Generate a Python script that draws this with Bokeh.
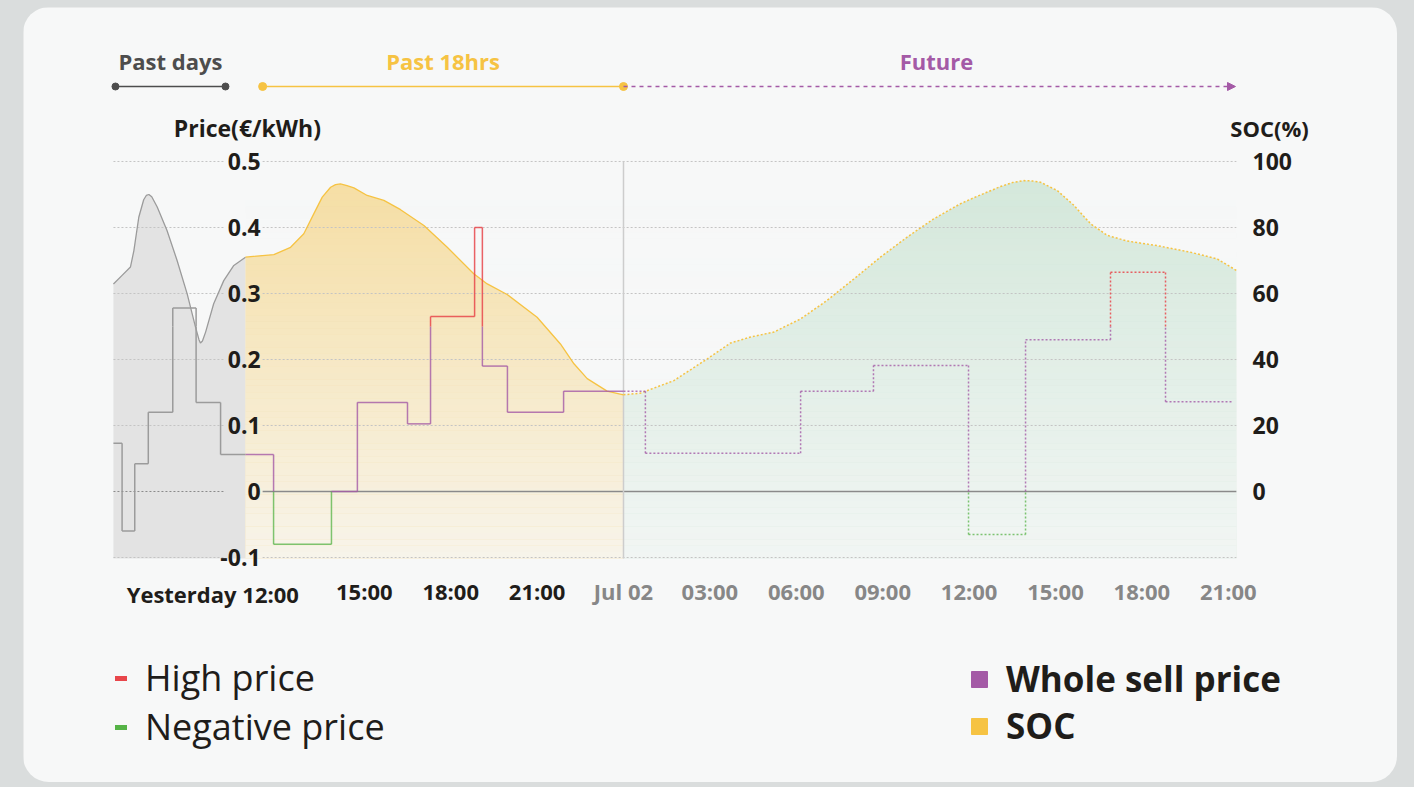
import numpy as np
from bokeh.plotting import figure
from bokeh.models import (Range1d, LinearAxis, FixedTicker, ColumnDataSource, Label,
                          Legend, LegendItem, Arrow, NormalHead)
from bokeh.core.properties import value
from bokeh.embed import file_html
from bokeh.resources import INLINE

# ---------------- data ----------------
region_names = ["Past days", "Past 18hrs", "Future"]
region_start = [-17.64, -12.53, 0.0]          # hours relative to Jul 02 00:00
region_end = [-13.82, 0.0, 21.25]
past_days_end = -13.125                        # boundary between past days and past 18 hrs
now_hour = 0.0
chart_x = [-17.71, 21.28]                      # hours shown in the chart area
chart_price = [-0.1015, 0.5]                   # price span of the chart area

# SOC (%) curves
past_days_hours = [-17.71, -17.41, -17.12, -17.00, -16.83, -16.66, -16.57, -16.48, -16.38, -16.19,
                   -15.85, -15.50, -15.15, -14.86, -14.74, -14.69, -14.62, -14.51, -14.23, -13.88,
                   -13.53, -13.125]
past_days_soc = [62.9, 65.5, 68.0, 73.0, 83.1, 88.4, 89.7, 90.0, 89.3, 86.2,
                 79.1, 70.0, 59.9, 49.8, 46.0, 45.0, 45.6, 48.3, 56.9, 63.9,
                 68.5, 71.0]
past_hours = [-13.125, -12.14, -11.56, -11.10, -10.75, -10.46, -10.17, -10.00, -9.83, -9.60, -9.36,
              -8.90, -8.32, -7.74, -6.93, -6.12, -5.20, -4.73, -4.04, -3.00, -2.19, -1.72, -1.26,
              -0.57, 0.0]
past_soc = [71.0, 71.8, 74.0, 78.1, 84.2, 89.2, 92.2, 93.0, 93.2, 92.7, 92.0,
            89.7, 88.2, 85.4, 80.6, 74.0, 66.0, 62.9, 59.7, 52.8, 44.7, 38.7, 34.2,
            30.4, 29.3]
future_hours = [0.0, 0.59, 1.75, 2.91, 3.72, 4.41, 5.22, 6.15, 7.07, 8.00, 8.92, 9.85, 10.77, 11.70,
                12.16, 13.09, 13.50, 13.90, 14.20, 14.48, 15.06, 15.64, 16.22, 16.80, 17.49, 18.53,
                19.69, 20.61, 21.28]
future_soc = [29.3, 29.8, 33.6, 40.2, 45.0, 46.8, 48.3, 52.3, 57.9, 64.4, 71.0, 77.1, 82.6, 87.2,
              89.0, 92.4, 93.6, 94.2, 94.1, 93.7, 91.2, 86.7, 81.1, 77.6, 75.9, 74.5,
              72.5, 70.5, 67.0]

# Whole sell price (EUR/kWh) step series
price_edges = [-17.71, -17.41, -16.97, -16.50, -15.65, -14.84, -13.99, -12.15, -10.14, -9.24, -7.50,
               -6.70, -5.17, -4.90, -4.03, -2.08, 0.76, 6.15, 8.68, 11.98, 13.96, 16.91, 18.82, 21.18]
price_values = [0.073, -0.060, 0.042, 0.120, 0.278, 0.135, 0.056, -0.080, 0.0, 0.135, 0.1025,
                0.265, 0.40, 0.19, 0.12, 0.152, 0.058, 0.152, 0.191, -0.065, 0.23, 0.332, 0.136]
high_price = 0.25

price_ticks = [-0.1, 0.0, 0.1, 0.2, 0.3, 0.4, 0.5]
price_tick_labels = ["-0.1", "0", "0.1", "0.2", "0.3", "0.4", "0.5"]
soc_ticks = [0, 20, 40, 60, 80, 100]
soc_tick_labels = ["0", "20", "40", "60", "80", "100"]
first_tick_hour = -12
first_tick_label = "Yesterday 12:00"
past_tick_hours = [-9, -6, -3]
past_tick_labels = ["15:00", "18:00", "21:00"]
future_tick_hours = [0, 3, 6, 9, 12, 15, 18, 21]
future_tick_labels = ["Jul 02", "03:00", "06:00", "09:00", "12:00", "15:00", "18:00", "21:00"]
legend_left_labels = ["High price", "Negative price"]
legend_right_labels = ["Whole sell price", "SOC"]

# ---------------- style ----------------
FONT = "Open Sans"
CARD = "#f7f8f8"
PAGE = "#dadddd"
DARK = "#1f1d1a"
GRAY_TXT = "#878787"
YELLOW = "#f6c343"
PURPLE = "#a45aa6"
RED = "#e8464b"
GREEN = "#55b346"
PASTGRAY = "#9b9b9b"
HEADGRAY = "#4d4d4d"
SOC_PER_PRICE = 200.0
X_RANGE = (-20.833, 26.875)     # whole card, 28.8 px per hour
Y_RANGE = (-0.4409, 0.7333)     # whole card, 660 px per EUR/kWh
HEADER_LINE_Y = 0.6136
HEADER_TEXT_Y = 0.652
AXIS_TITLE_Y = 0.551
LEFT_AXIS_AT = -12.60
RIGHT_AXIS_AT = 21.84

p = figure(width=1374, height=775, output_backend="svg", toolbar_location=None,
           x_range=Range1d(*X_RANGE), y_range=Range1d(*Y_RANGE),
           min_border=0, min_border_left=0, min_border_right=0, min_border_top=0, min_border_bottom=0,
           background_fill_color=CARD, border_fill_color=CARD, outline_line_color=None)
p.styles = {"border-radius": "26px", "overflow": "hidden"}
p.grid.visible = False
p.extra_y_ranges = {"soc": Range1d(Y_RANGE[0] * SOC_PER_PRICE, Y_RANGE[1] * SOC_PER_PRICE)}
soc_floor = chart_price[0] * SOC_PER_PRICE

# ---- fills ----
p.varea(x=past_days_hours, y1=soc_floor, y2=past_days_soc, y_range_name="soc",
        fill_color="#e3e3e3", fill_alpha=1.0)
p.varea(x=past_hours, y1=soc_floor, y2=past_soc, y_range_name="soc", fill_color="#f6dea3", fill_alpha=1.0)
p.varea(x=future_hours, y1=soc_floor, y2=future_soc, y_range_name="soc", fill_color="#d4e8db", fill_alpha=1.0)

# vertical fade (card-coloured translucent bands over the coloured areas)
nb = 60
band_top = 0.48
band_edges = np.linspace(chart_price[0], band_top, nb + 1)
band_mid = (band_edges[:-1] + band_edges[1:]) / 2
band_alpha = np.clip(0.84 * (band_top - band_mid) / (band_top - chart_price[0]), 0, 1)
p.quad(left=past_days_end, right=chart_x[1], bottom=band_edges[:-1], top=band_edges[1:],
       fill_color=CARD, fill_alpha=band_alpha, line_color=None)

# ---- grid lines (with a gap for the price labels) ----
grid_levels = [t for t in price_ticks if t != 0.0]
gx0 = [chart_x[0]] * len(grid_levels) + [region_start[1]] * len(grid_levels)
gx1 = [region_end[0]] * len(grid_levels) + [chart_x[1]] * len(grid_levels)
gy = grid_levels + grid_levels
p.segment(x0=gx0, y0=gy, x1=gx1, y1=gy, line_color="#c4c4c4", line_width=1, line_dash="2 2")
p.segment(x0=[chart_x[0]], y0=[0.0], x1=[region_end[0]], y1=[0.0],
          line_color="#8a8a8a", line_width=1, line_dash="2 2")
p.segment(x0=[region_start[1]], y0=[0.0], x1=[chart_x[1]], y1=[0.0],
          line_color="#8a8a8a", line_width=1.6)
# now line
p.segment(x0=[now_hour], y0=[chart_price[0]], x1=[now_hour], y1=[chart_price[1]],
          line_color="#cdcdcd", line_width=1.5)

# ---- SOC lines ----
p.line(past_days_hours, past_days_soc, y_range_name="soc", line_color=PASTGRAY, line_width=1.3)
p.line(past_hours, past_soc, y_range_name="soc", line_color=YELLOW, line_width=1.3)
p.line(future_hours, future_soc, y_range_name="soc", line_color=YELLOW, line_width=1.5, line_dash="2 2")

# ---- price step line, coloured by value ----
segs = []
n = len(price_values)
for i in range(n):
    segs.append((price_edges[i], price_values[i], price_edges[i + 1], price_values[i]))
    if i < n - 1:
        segs.append((price_edges[i + 1], price_values[i], price_edges[i + 1], price_values[i + 1]))
pieces = []
for x0, y0, x1, y1 in segs:
    if y0 == y1:
        cuts = sorted(c for c in (past_days_end, now_hour) if min(x0, x1) < c < max(x0, x1))
        xs = [x0] + cuts + [x1]
        for a, b in zip(xs[:-1], xs[1:]):
            pieces.append((a, y0, b, y1))
    else:
        lo, hi = min(y0, y1), max(y0, y1)
        cuts = [c for c in (0.0, high_price) if lo < c < hi]
        ys = [lo] + cuts + [hi]
        for a, b in zip(ys[:-1], ys[1:]):
            pieces.append((x0, a, x1, b))
solid = dict(x0=[], y0=[], x1=[], y1=[], c=[], a=[])
dotted = dict(x0=[], y0=[], x1=[], y1=[], c=[], a=[])
for x0, y0, x1, y1 in pieces:
    xm, ym = (x0 + x1) / 2, (y0 + y1) / 2
    if xm < past_days_end:
        col, alpha = PASTGRAY, 1.0
    elif ym < 0:
        col, alpha = GREEN, 0.75
    elif ym > high_price:
        col, alpha = RED, 0.85
    else:
        col, alpha = PURPLE, 0.8
    d = dotted if xm > now_hour else solid
    for k, v in zip(("x0", "y0", "x1", "y1", "c", "a"), (x0, y0, x1, y1, col, alpha)):
        d[k].append(v)
p.segment(x0="x0", y0="y0", x1="x1", y1="y1", line_color="c", line_alpha="a", line_width=1.5,
          source=ColumnDataSource(solid))
p.segment(x0="x0", y0="y0", x1="x1", y1="y1", line_color="c", line_alpha="a", line_width=1.5,
          line_dash="2 2", source=ColumnDataSource(dotted))

# ---- header timeline ----
p.segment(x0=[region_start[0]], y0=[HEADER_LINE_Y], x1=[region_end[0]], y1=[HEADER_LINE_Y],
          line_color=HEADGRAY, line_width=1.6)
p.scatter(x=[region_start[0], region_end[0]], y=[HEADER_LINE_Y] * 2, size=7, marker="circle",
          fill_color=HEADGRAY, line_color=HEADGRAY)
p.add_layout(Arrow(end=NormalHead(size=8, fill_color=PURPLE, line_color=PURPLE),
                   x_start=region_start[2], y_start=HEADER_LINE_Y,
                   x_end=region_end[2], y_end=HEADER_LINE_Y,
                   line_color=PURPLE, line_width=1.4, line_dash="4 4"))
p.segment(x0=[region_start[1]], y0=[HEADER_LINE_Y], x1=[region_end[1]], y1=[HEADER_LINE_Y],
          line_color=YELLOW, line_width=1.6)
p.scatter(x=[region_start[1], region_end[1]], y=[HEADER_LINE_Y] * 2, size=8, marker="circle",
          fill_color=YELLOW, line_color=YELLOW)
head_src = ColumnDataSource(dict(
    x=[(s + e) / 2 for s, e in zip(region_start, region_end)],
    y=[HEADER_TEXT_Y] * 3, text=region_names, color=[HEADGRAY, YELLOW, PURPLE],
    dx=[0, 0, 7]))
p.text(x="x", y="y", text="text", text_color="color", source=head_src, text_font=value(FONT),
       x_offset="dx", text_font_size="22px", text_font_style="bold", text_align="center",
       text_baseline="middle")

# ---- axes ----
def style_axis(a, color, standoff, size="22px"):
    a.axis_line_color = None
    a.major_tick_line_color = None
    a.minor_tick_line_color = None
    a.major_tick_out = 0
    a.major_tick_in = 0
    a.major_label_standoff = standoff
    a.major_label_text_font = FONT
    a.major_label_text_font_style = "bold"
    a.major_label_text_font_size = size
    a.major_label_text_color = color

ax = p.yaxis[0]
ax.ticker = FixedTicker(ticks=price_ticks)
ax.major_label_overrides = dict(zip(price_ticks, price_tick_labels))
ax.fixed_location = LEFT_AXIS_AT
style_axis(ax, DARK, 0, "23px")

rax = LinearAxis(y_range_name="soc", ticker=FixedTicker(ticks=soc_ticks),
                 major_label_overrides=dict(zip(soc_ticks, soc_tick_labels)),
                 fixed_location=RIGHT_AXIS_AT)
style_axis(rax, DARK, 0, "23px")
p.add_layout(rax, "right")

bx = p.xaxis[0]
bx.ticker = FixedTicker(ticks=future_tick_hours)
bx.major_label_overrides = dict(zip(future_tick_hours, future_tick_labels))
bx.fixed_location = chart_price[0]
style_axis(bx, GRAY_TXT, 18)

bx2 = LinearAxis(ticker=FixedTicker(ticks=past_tick_hours),
                 major_label_overrides=dict(zip(past_tick_hours, past_tick_labels)),
                 fixed_location=chart_price[0])
style_axis(bx2, DARK, 18)
p.add_layout(bx2, "below")

p.add_layout(Label(x=first_tick_hour, y=-0.1555, x_offset=21, text=first_tick_label,
                   text_align="right", text_baseline="middle", text_font=FONT,
                   text_font_style="bold", text_font_size="22px", text_color=DARK))
p.add_layout(Label(x=-13.06, y=AXIS_TITLE_Y, text="Price(€/kWh)", text_align="center",
                   text_baseline="middle", text_font=FONT, text_font_style="bold",
                   text_font_size="23px", text_color=DARK))
p.add_layout(Label(x=22.43, y=AXIS_TITLE_Y, text="SOC(%)", text_align="center",
                   text_baseline="middle", text_font=FONT, text_font_style="bold",
                   text_font_size="22px", text_color=DARK))

# ---- legends (key glyphs use proxy renderers placed outside the visible area) ----
off_x, off_y = [X_RANGE[0] - 50], [Y_RANGE[0] - 50]
r_high = p.line(x=off_x * 2, y=off_y * 2, line_color=RED, line_width=5, line_cap="round")
r_neg = p.line(x=off_x * 2, y=off_y * 2, line_color=GREEN, line_width=5, line_cap="round")
r_ws = p.scatter(x=off_x, y=off_y, marker="square", size=16, fill_color=PURPLE, line_color=PURPLE)
r_soc = p.scatter(x=off_x, y=off_y, marker="square", size=16, fill_color=YELLOW, line_color=YELLOW)

leg1 = Legend(items=[LegendItem(label=legend_left_labels[0], renderers=[r_high]),
                     LegendItem(label=legend_left_labels[1], renderers=[r_neg])],
              location=(92, 31), orientation="vertical", glyph_width=12, glyph_height=40,
              label_height=40, label_standoff=18, spacing=0, padding=0, margin=0,
              background_fill_alpha=0, border_line_alpha=0,
              label_text_font=FONT, label_text_font_size="36px", label_text_color=DARK)
leg2 = Legend(items=[LegendItem(label=legend_right_labels[0], renderers=[r_ws]),
                     LegendItem(label=legend_right_labels[1], renderers=[r_soc])],
              location=(936, 33), orientation="vertical", glyph_width=40, glyph_height=40,
              label_height=40, label_standoff=7, spacing=-2, padding=0, margin=0,
              background_fill_alpha=0, border_line_alpha=0,
              label_text_font=FONT, label_text_font_size="35px", label_text_font_style="bold",
              label_text_color=DARK)
p.add_layout(leg1)
p.add_layout(leg2)

html = file_html(p, INLINE, title="Price and SOC")
i = html.rfind("<body")
j = html.find(">", i)
if i >= 0 and j > i:
    html = (html[:i] + '<body style="margin:0;padding:7px 0 0 23px;box-sizing:border-box;'
            'background:%s;">' % PAGE + html[j + 1:])
open("out.html", "w").write(html)
